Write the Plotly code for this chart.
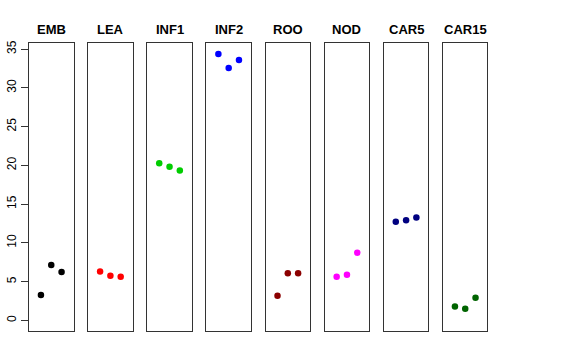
import plotly.graph_objects as go

groups = ["EMB", "LEA", "INF1", "INF2", "ROO", "NOD", "CAR5", "CAR15"]
values = [
    [3.26, 7.13, 6.22],
    [6.31, 5.75, 5.62],
    [20.27, 19.80, 19.33],
    [34.36, 32.55, 33.58],
    [3.17, 6.09, 6.09],
    [5.62, 5.88, 8.71],
    [12.71, 12.92, 13.27],
    [1.80, 1.50, 2.91],
]
colors = ["#000000", "#FF0000", "#00CD00", "#0000FF", "#8B0000", "#FF00FF", "#000080", "#006400"]
reps = [1, 2, 3]
y_ticks = [0, 5, 10, 15, 20, 25, 30, 35]

W, H = 576, 360
fig = go.Figure()
layout = dict(width=W, height=H, margin=dict(l=0, r=0, t=0, b=0, autoexpand=False),
              paper_bgcolor="white", plot_bgcolor="white", showlegend=False,
              font=dict(family="Liberation Sans, Arial, sans-serif", color="black"))
annotations = []
top_px, bot_px = 43, 331
for i, g in enumerate(groups):
    left = 29 + i * 59.14
    right = left + 44.5
    xa = "xaxis" if i == 0 else f"xaxis{i+1}"
    ya = "yaxis" if i == 0 else f"yaxis{i+1}"
    xr = "x" if i == 0 else f"x{i+1}"
    yr = "y" if i == 0 else f"y{i+1}"
    fig.add_trace(go.Scatter(x=reps, y=values[i], mode="markers",
                             marker=dict(color=colors[i], size=6.5, line=dict(width=0)),
                             xaxis=xr, yaxis=yr, hoverinfo="skip"))
    layout[xa] = dict(domain=[left / W, right / W], range=[-0.16, 4.16],
                      showgrid=False, zeroline=False, showticklabels=False, ticks="",
                      showline=True, mirror=True, linecolor="#333333", linewidth=1,
                      anchor=yr, automargin=False)
    yd = dict(domain=[1 - bot_px / H, 1 - top_px / H], range=[-1.376, 35.78],
              showgrid=False, zeroline=False, showline=True, mirror=True,
              linecolor="#333333", linewidth=1, anchor=xr, automargin=False)
    if i == 0:
        yd.update(tickvals=y_ticks, ticks="outside", ticklen=7, tickcolor="#333333",
                  tickangle=-90, tickfont=dict(size=12, color="black"))
    else:
        yd.update(showticklabels=False, ticks="")
    layout[ya] = yd
    annotations.append(dict(text=f"<b>{g}</b>", x=(left + right) / 2 / W, y=1 - 29.5 / H,
                            xref="paper", yref="paper", showarrow=False,
                            xanchor="center", yanchor="middle",
                            font=dict(size=13, color="black")))
layout["annotations"] = annotations
fig.update_layout(**layout)
fig.write_html("out.html", config={"displayModeBar": False, "staticPlot": True},
               post_script="document.body.style.margin='0';document.body.style.overflow='hidden';")
